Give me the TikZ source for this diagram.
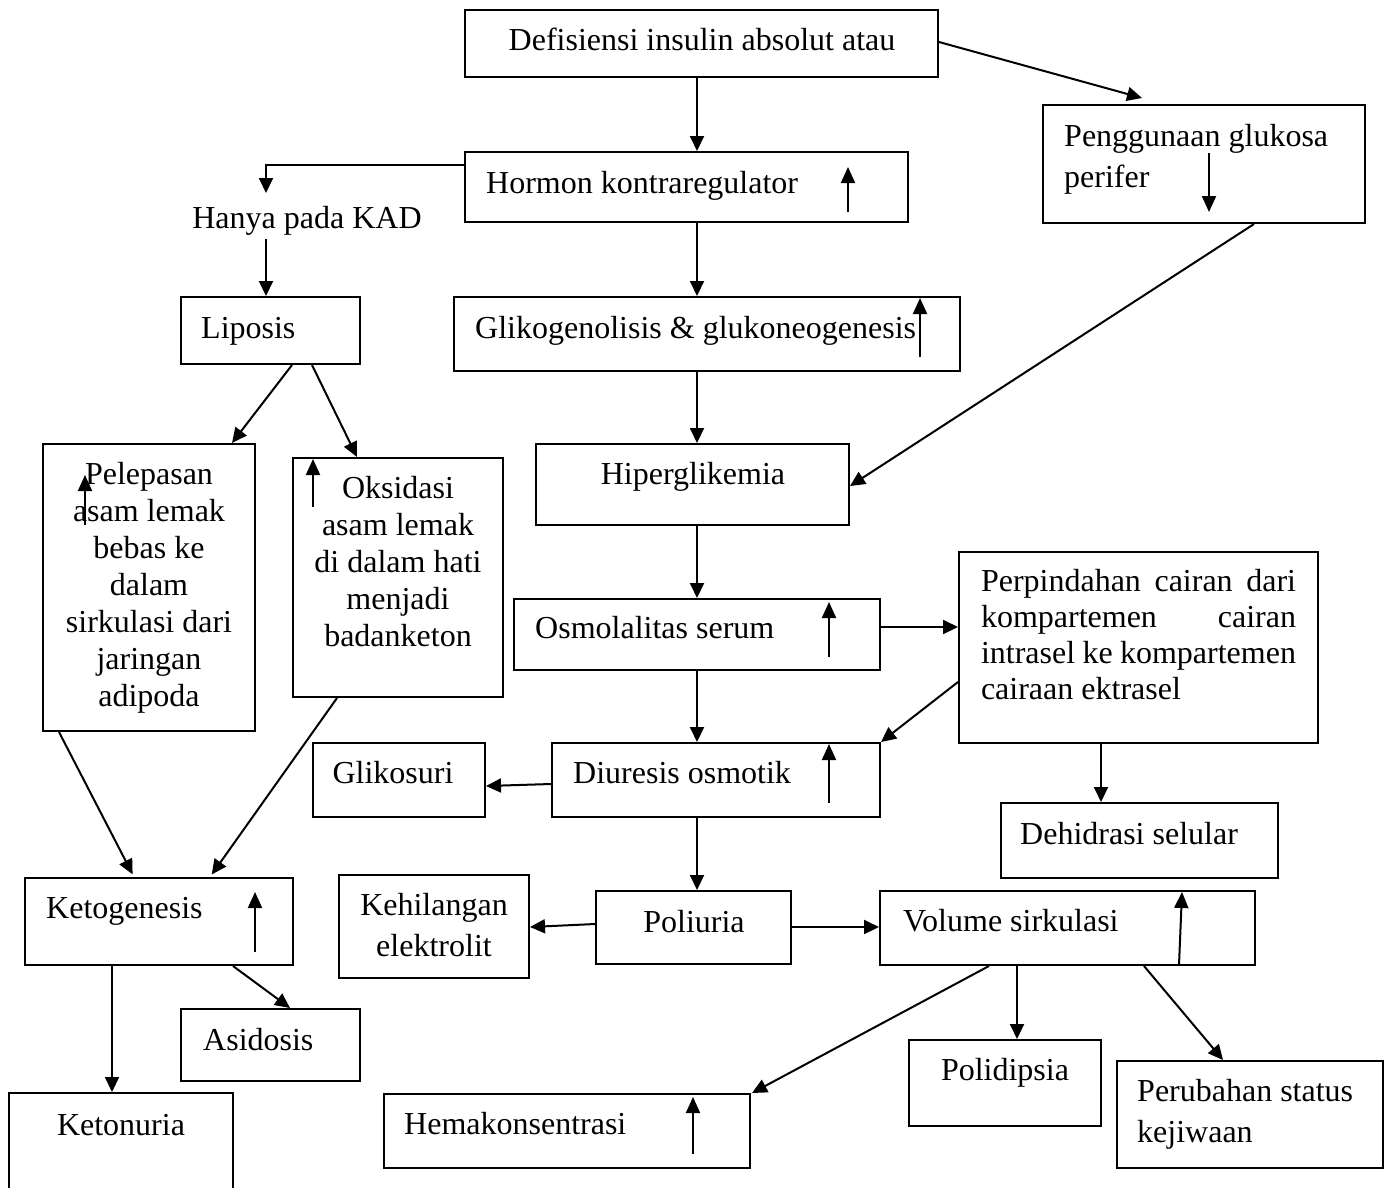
\documentclass[tikz,border=0pt]{standalone}
\usepackage{fontspec}
\setmainfont{Liberation Serif}
\usetikzlibrary{arrows.meta}
\begin{document}
\begin{tikzpicture}[x=1pt,y=-1pt,
  box/.style={draw, line width=2pt, inner sep=0pt, rectangle},
  lbl/.style={inner sep=0pt, font=\fontsize{32}{37}\selectfont},
  arr/.style={line width=2pt, -{Triangle[length=15pt,width=14pt]}},
  ind/.style={line width=2pt, -{Triangle[length=16pt,width=14pt]}},
]
\useasboundingbox (0,0) rectangle (1389,1187);
\clip (0,0) rectangle (1389,1187);
\fill[white] (0,0) rectangle (1389,1187);

% ---------- boxes ----------
\node[box, minimum width=473pt, minimum height=67pt]  (def)    at (701.5,43.5) {};
\node[box, minimum width=443pt, minimum height=70pt]  (hormon) at (686.5,187) {};
\node[box, minimum width=322pt, minimum height=118pt] (peng)   at (1204,164) {};
\node[box, minimum width=179pt, minimum height=67pt]  (lipo)   at (270.5,330.5) {};
\node[box, minimum width=506pt, minimum height=74pt]  (glik)   at (707,334) {};
\node[box, minimum width=212pt, minimum height=287pt] (pel)    at (149,587.5) {};
\node[box, minimum width=210pt, minimum height=239pt] (oks)    at (398,577.5) {};
\node[box, minimum width=313pt, minimum height=81pt]  (hiper)  at (692.5,484.5) {};
\node[box, minimum width=366pt, minimum height=71pt]  (osmo)   at (697,634.5) {};
\node[box, minimum width=359pt, minimum height=191pt] (perp)   at (1138.5,647.5) {};
\node[box, minimum width=172pt, minimum height=74pt]  (gliko)  at (399,780) {};
\node[box, minimum width=328pt, minimum height=74pt]  (diur)   at (716,780) {};
\node[box, minimum width=277pt, minimum height=75pt]  (dehid)  at (1139.5,840.5) {};
\node[box, minimum width=268pt, minimum height=87pt]  (keto)   at (159,921.5) {};
\node[box, minimum width=190pt, minimum height=103pt] (kehil)  at (434,926.5) {};
\node[box, minimum width=195pt, minimum height=73pt]  (poli)   at (693.5,927.5) {};
\node[box, minimum width=375pt, minimum height=74pt]  (vol)    at (1067.5,928) {};
\node[box, minimum width=179pt, minimum height=72pt]  (asid)   at (270.5,1045) {};
\node[box, minimum width=224pt, minimum height=108pt] (ketonu) at (121,1147) {};
\node[box, minimum width=192pt, minimum height=86pt]  (polid)  at (1005,1083) {};
\node[box, minimum width=366pt, minimum height=74pt]  (hema)   at (567,1131) {};
\node[box, minimum width=266pt, minimum height=107pt] (perub)  at (1250,1114.5) {};

% ---------- texts ----------
\node[lbl, anchor=base] (tdef) at (702,50) {Defisiensi insulin absolut atau};
\node[lbl, anchor=base west] (thormon) at (486,193) {Hormon kontraregulator};
\node[lbl, anchor=base] (kad) at (307,228) {Hanya pada KAD};
\node[lbl, anchor=west, align=left] (tpeng) at (1064,159) {Penggunaan glukosa\\[4pt]perifer};
\node[lbl, anchor=base west] (tlipo) at (201,338) {Liposis};
\node[lbl, anchor=base west] (tglik) at (475,338) {Glikogenolisis \& glukoneogenesis};
\node[lbl, anchor=base] (thiper) at (693,484) {Hiperglikemia};
\node[lbl, align=center] (tpel) at (149,587.5) {Pelepasan\\asam lemak\\bebas ke\\dalam\\sirkulasi dari\\jaringan\\adipoda};
\node[lbl, align=center] (toks) at (398,561.5) {Oksidasi\\asam lemak\\di dalam hati\\menjadi\\badanketon};
\node[lbl, anchor=base west] (tosmo) at (535,638) {Osmolalitas serum};
\node[lbl, align=left, font=\fontsize{32}{36}\selectfont] (tperp) at (1138.5,635) {\makebox[315pt][s]{Perpindahan cairan dari}\\\makebox[315pt][s]{kompartemen cairan}\\\makebox[315pt][s]{intrasel ke kompartemen}\\cairaan ektrasel};
\node[lbl, anchor=base] (tgliko) at (393,783) {Glikosuri};
\node[lbl, anchor=base west] (tdiur) at (573,783) {Diuresis osmotik};
\node[lbl, anchor=base west] (tdehid) at (1020,844) {Dehidrasi selular};
\node[lbl, anchor=base west] (tketo) at (46,918) {Ketogenesis};
\node[lbl, align=center] (tkehil) at (434,925.5) {Kehilangan\\[4pt]elektrolit};
\node[lbl, anchor=base] (tpoli) at (694,932) {Poliuria};
\node[lbl, anchor=base west] (tvol) at (903,931) {Volume sirkulasi};
\node[lbl, anchor=base west] (tasid) at (203,1050) {Asidosis};
\node[lbl, anchor=base] (tketonu) at (121,1135) {Ketonuria};
\node[lbl, anchor=base] (tpolid) at (1005,1080) {Polidipsia};
\node[lbl, anchor=base west] (thema) at (404,1134) {Hemakonsentrasi};
\node[lbl, anchor=west, align=left] (tperub) at (1137,1114) {Perubahan status\\[4pt]kejiwaan};

% ---------- free ends ----------
\coordinate (pengin) at (1142,98);
\coordinate (kadin) at (266,193);

% ---------- connectors ----------
\draw[arr] (def.south -| 697,0) -- (hormon.north -| 697,0);
\draw[arr] (def.east |- 0,42) -- (pengin);
\draw[arr] (hormon.west |- 0,165) -| (kadin);
\draw[arr] (266,239) -- (lipo.north -| 266,0);
\draw[arr] (hormon.south -| 697,0) -- (glik.north -| 697,0);
\draw[arr] (glik.south -| 697,0) -- (hiper.north -| 697,0);
\draw[arr] (peng.south -| 1254,0) -- (hiper.east |- 0,486);
\draw[arr] (lipo.south -| 292,0) -- (pel.north -| 232,0);
\draw[arr] (lipo.south -| 312,0) -- (oks.north -| 357,0);
\draw[arr, shorten >=3pt] (pel.south -| 59,0) -- (keto.north -| 134,0);
\draw[arr, shorten >=3pt] (oks.south -| 337,0) -- (keto.north -| 210,0);
\draw[arr] (hiper.south -| 697,0) -- (osmo.north -| 697,0);
\draw[arr] (osmo.east |- 0,627) -- (perp.west |- 0,627);
\draw[arr] (osmo.south -| 697,0) -- (diur.north -| 697,0);
\draw[arr] (perp.west |- 0,682) -- (diur.north east);
\draw[arr] (diur.west |- 0,784) -- (gliko.east |- 0,786);
\draw[arr] (perp.south -| 1101,0) -- (dehid.north -| 1101,0);
\draw[arr] (diur.south -| 697,0) -- (poli.north -| 697,0);
\draw[arr] (poli.west |- 0,924) -- (kehil.east |- 0,927);
\draw[arr] (poli.east |- 0,927) -- (vol.west |- 0,927);
\draw[arr] (keto.south -| 112,0) -- (ketonu.north -| 112,0);
\draw[arr] (keto.south -| 233,0) -- (asid.north -| 290,0);
\draw[arr] (vol.south -| 989,0) -- (hema.north -| 752,0);
\draw[arr] (vol.south -| 1017,0) -- (polid.north -| 1017,0);
\draw[arr] (vol.south -| 1144,0) -- (perub.north -| 1223,0);

% ---------- increase / decrease marks ----------
\draw[ind] (848,212) -- (848,167);
\draw[ind] (1209,153) -- (1209,212);
\draw[ind] (920,357) -- (920,298);
\draw[ind] (85,525) -- (85,475);
\draw[ind] (313,507) -- (313,459);
\draw[ind] (829,657) -- (829,602);
\draw[ind] (829,803) -- (829,744);
\draw[ind] (255,952) -- (255,892);
\draw[ind] (1179,965) -- (1182,892);
\draw[ind] (693,1154) -- (693,1097);
\end{tikzpicture}
\end{document}
